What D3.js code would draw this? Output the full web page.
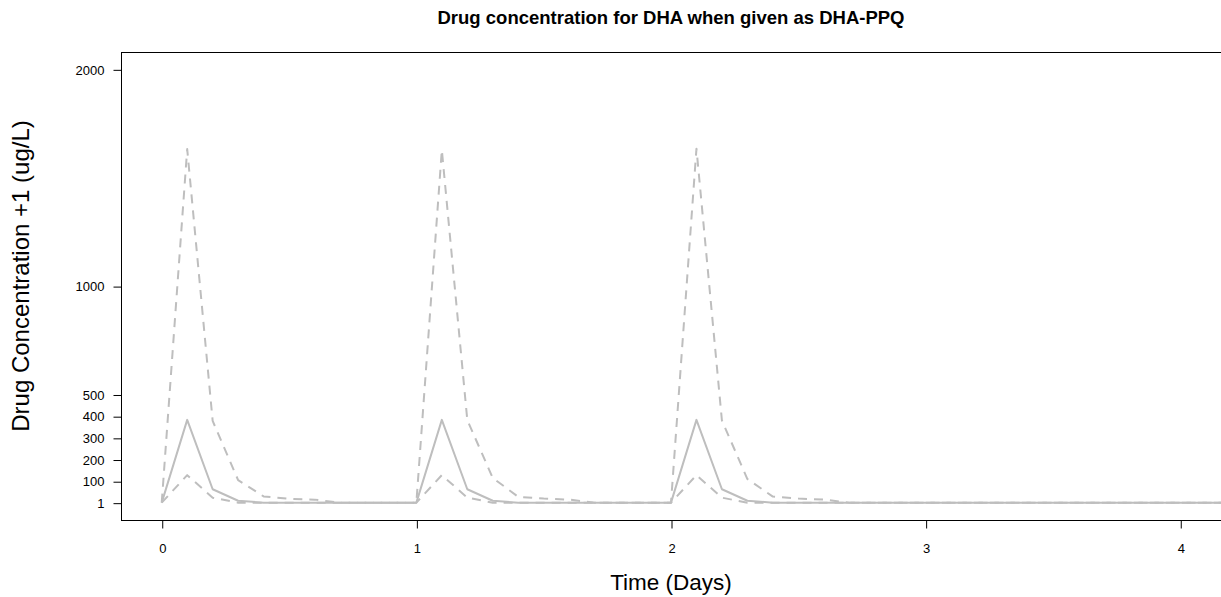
<!DOCTYPE html>
<html>
<head>
<meta charset="utf-8">
<script src="https://cdn.jsdelivr.net/npm/d3@7"></script>
<style>
  html, body { margin: 0; padding: 0; background: #fff; }
  svg { display: block; font-family: "Liberation Sans", Arial, sans-serif; }
</style>
</head>
<body>
<svg id="chart" width="1221" height="597"></svg>
<script>
// ---- data ----
const times = [0.0,0.1,0.2,0.3,0.4,0.5,0.6,0.7,0.8,0.9,
               1.0,1.1,1.2,1.3,1.4,1.5,1.6,1.7,1.8,1.9,
               2.0,2.1,2.2,2.3,2.4,2.5,2.6,2.7,2.8,2.9,
               3.0,3.1,3.2,3.3,3.4,3.5,3.6,3.7,3.8,3.9,
               4.0,4.1,4.2,4.3,4.4,4.5];
const median = [1,383,63,10,1,1,1,1,1,1,
                1,383,63,10,1,1,1,1,1,1,
                1,383,63,10,1,1,1,1,1,1,
                1,1,1,1,1,1,1,1,1,1,
                1,1,1,1,1,1];
const upper  = [1,1632,378,105,30,19,15,1,1,1,
                1,1628,382,115,28,20,15,1,1,1,
                1,1634,380,110,29,20,15,1,1,1,
                1,1,1,1,1,1,1,1,1,1,
                1,1,1,1,1,1];
const lower  = [1,128,24,1,1,1,1,1,1,1,
                1,128,24,1,1,1,1,1,1,1,
                1,128,24,1,1,1,1,1,1,1,
                1,1,1,1,1,1,1,1,1,1,
                1,1,1,1,1,1];
const xTicks = [0, 1, 2, 3, 4];
const yTicks = [1, 100, 200, 300, 400, 500, 1000, 2000];
const titleText = "Drug concentration for DHA when given as DHA-PPQ";
const xLabel = "Time (Days)";
const yLabel = "Drug Concentration +1 (ug/L)";

// ---- layout ----
const svg = d3.select("#chart");
const L = 121, R = 1221, T = 52, B = 520;
const x = d3.scaleLinear().domain([-0.16, 4.16]).range([L, R]);
const y = d3.scaleLinear().domain([1 - 79.96, 2000 + 79.96]).range([B, T]);

svg.append("defs").append("clipPath").attr("id", "clip")
  .append("rect").attr("x", L).attr("y", T).attr("width", R - L).attr("height", B - T);

const series = [
  { vals: upper, dash: "9,7" },
  { vals: lower, dash: "9,7" },
  { vals: median, dash: null }
];
const line = d3.line().x((d, i) => x(times[i])).y(d => y(d));
const g = svg.append("g").attr("clip-path", "url(#clip)");
series.forEach(s => {
  g.append("path")
    .attr("d", line(s.vals))
    .attr("fill", "none")
    .attr("stroke", "#bebebe")
    .attr("stroke-width", 2)
    .attr("stroke-dasharray", s.dash)
    .attr("stroke-linejoin", "round");
});

// box
svg.append("rect").attr("x", L + 0.5).attr("y", T + 0.5)
  .attr("width", R - L).attr("height", B - T)
  .attr("fill", "none").attr("stroke", "#000").attr("stroke-width", 1);

// axes
const xAxis = d3.axisBottom(x).tickValues(xTicks).tickSize(8).tickPadding(15).tickFormat(d3.format("d"));
const gx = svg.append("g").attr("transform", `translate(0.5,${B + 0.5})`).call(xAxis);
gx.select(".domain").remove();
gx.selectAll("text").attr("font-size", 13).attr("fill", "#000").attr("font-family", "Liberation Sans, Arial, sans-serif");

const yAxis = d3.axisLeft(y).tickValues(yTicks).tickSize(8).tickPadding(9).tickFormat(d3.format("d"));
const gy = svg.append("g").attr("transform", `translate(${L + 0.5},0.5)`).call(yAxis);
gy.select(".domain").remove();
gy.selectAll("text").attr("font-size", 13).attr("fill", "#000").attr("font-family", "Liberation Sans, Arial, sans-serif");

// titles
svg.append("text").attr("x", (L + R) / 2).attr("y", 24)
  .attr("text-anchor", "middle").attr("font-size", 18.5).attr("font-weight", "bold")
  .text(titleText);
svg.append("text").attr("x", (L + R) / 2).attr("y", 590)
  .attr("text-anchor", "middle").attr("font-size", 22.5)
  .text(xLabel);
svg.append("text").attr("transform", `translate(29,${(T + B) / 2 - 10}) rotate(-90)`)
  .attr("text-anchor", "middle").attr("font-size", 24)
  .text(yLabel);
</script>
</body>
</html>
